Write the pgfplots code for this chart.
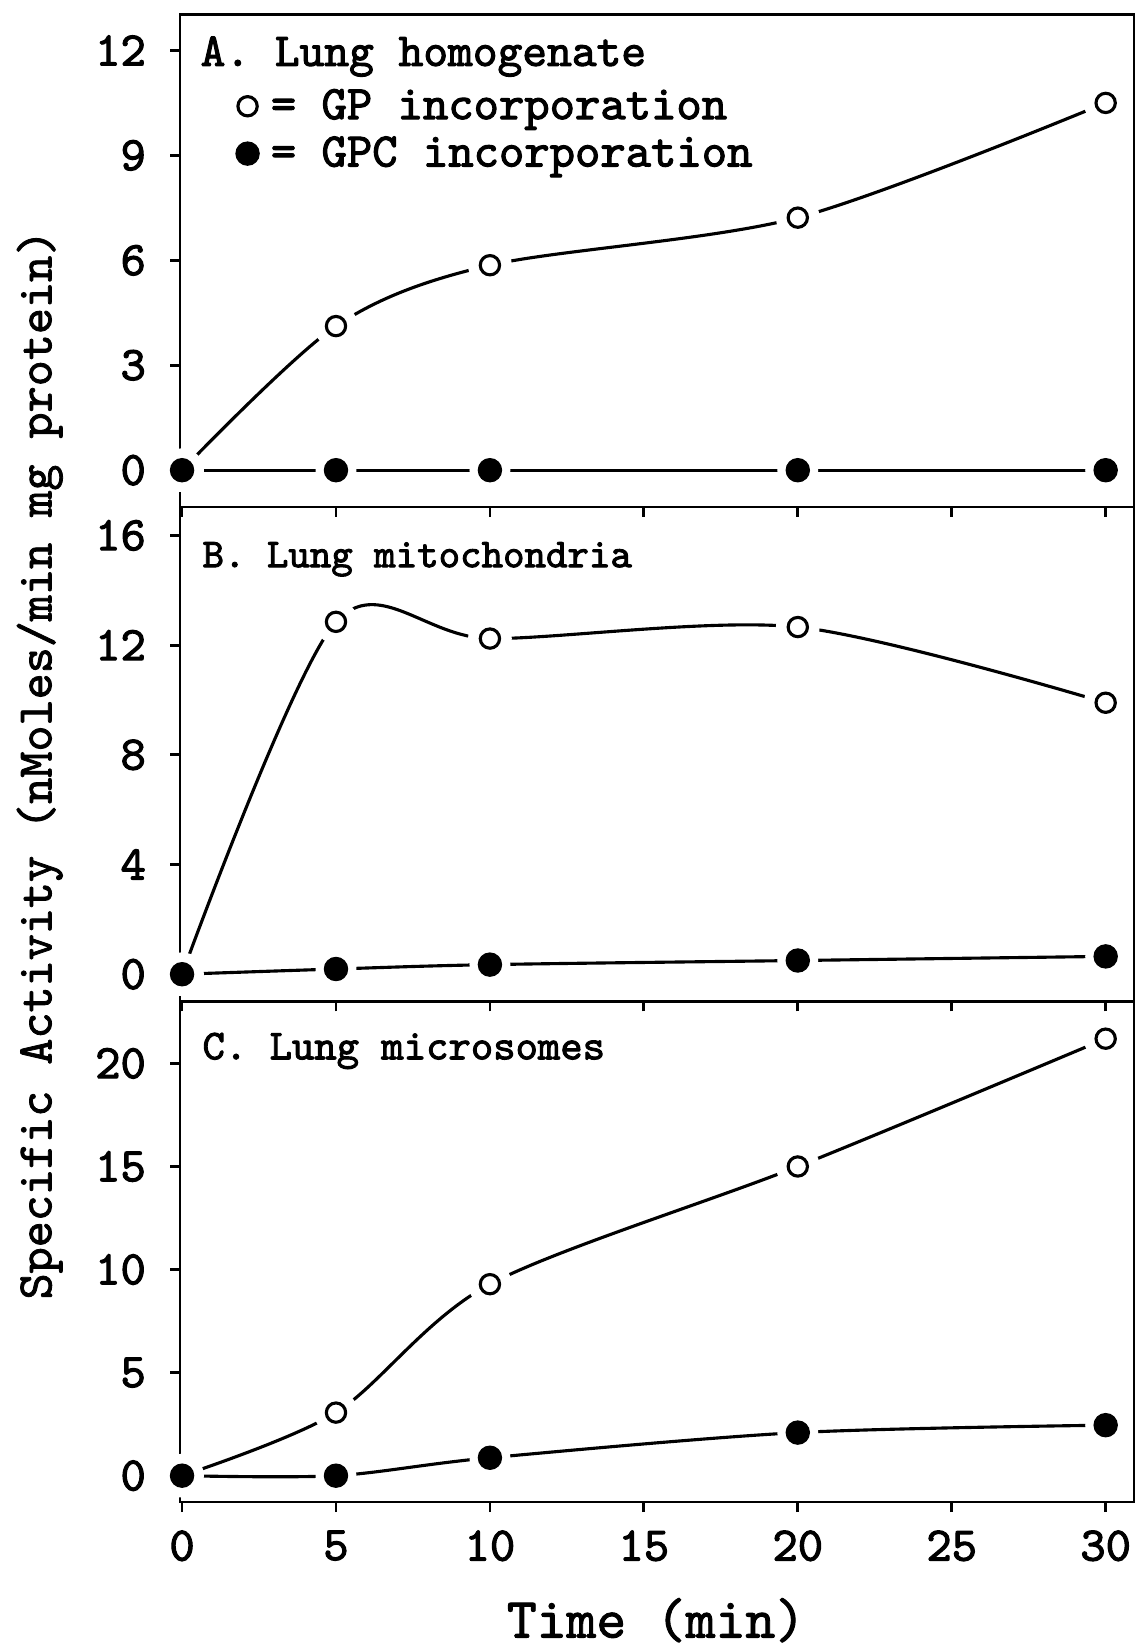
\documentclass[border=0pt]{standalone}
\usepackage{fontspec}
\newfontfamily\twb{lmmono10-regular.otf}[FakeBold=2.2]
\newfontfamily\tw{lmmono10-regular.otf}[FakeBold=1.6]
\usepackage{pgfplots}
\usepackage{pgfplotstable}
\pgfplotsset{compat=1.18}

\newcommand{\fs}[1]{\fontsize{#1}{#1}\selectfont}

\pgfplotstableread{
t   gp     gpc
0   0      0
5   4.12   0
10  5.86   0
20  7.22   0
30  10.5   0
}\tabA
\pgfplotstableread{
t   gp     gpc
0   0      0
5   12.85  0.19
10  12.24  0.35
20  12.66  0.50
30  9.9    0.65
}\tabB
\pgfplotstableread{
t   gp     gpc
0   0      0
5   3.06   0
10  9.29   0.87
20  15.0   2.09
30  21.2   2.45
}\tabC

\pgfplotsset{
 base/.style={
   width=335.9pt, scale only axis,
   xmin=-0.065, xmax=30.92,
   clip=false,
 },
 linesaxis/.style={base, hide axis},
 panel/.style={
   base,
   axis on top,
   tick align=outside, xtick pos=bottom, ytick pos=left,
   xtick={0,5,...,30},
   major tick length=3.5pt,
   axis line style={line width=1pt},
   tick style={line width=1pt, black},
   tick label style={font=\twb\fs{17}},
   yticklabel style={xshift=-5pt},
   xticklabel style={yshift=-3pt},
   /pgf/number format/assume math mode=true,
 },
 cline/.style={black, line width=1.1pt, smooth, no marks, forget plot},
 halo/.style={only marks, mark=*, mark size=#1, draw=white, fill=white, mark options={draw=white, fill=white}, forget plot},
 gp/.style={only marks, mark=o, mark size=3.4pt, mark options={line width=1.1pt, fill=white, draw=black}},
 gpc/.style={only marks, mark=*, mark size=4.1pt, mark options={fill=black, draw=black}},
}

\newcommand{\panellines}[1]{%
  \addplot[cline] table[x=t,y=gp] {#1};
  \addplot[cline] table[x=t,y=gpc] {#1};
}
\newcommand{\panelmarks}[1]{%
  \addplot[halo=7.5pt] table[x=t,y=gp] {#1};
  \addplot[halo=7pt] table[x=t,y=gpc] {#1};
  \addplot[gp] table[x=t,y=gp] {#1};
  \addplot[gpc] table[x=t,y=gpc] {#1};
}

\begin{document}
\begin{tikzpicture}
% ---------------- Panel A
\begin{axis}[linesaxis, at={(0pt,0pt)}, anchor=north west,
  height=173.3pt, ymin=-1.05, ymax=13.02]
\panellines{\tabA}
\end{axis}
\begin{axis}[panel, name=A, at={(0pt,0pt)}, anchor=north west,
  height=173.3pt, ymin=-1.05, ymax=13.02, ytick={0,3,6,9,12},
  xticklabels={},
  legend style={draw=none, fill=none, at={(rel axis cs:0.058,0.853)}, anchor=north west,
    font=\twb\fs{17}, inner sep=0pt, row sep=3.6pt,
    nodes={inner sep=0.5pt}},
  legend cell align=left,
  legend image code/.code={\draw[#1] plot coordinates {(0pt,0pt)}; \path (7.5pt,0pt);},
]
\panelmarks{\tabA}
\addlegendentry{= GP incorporation}
\addlegendentry{= GPC incorporation}
\node[anchor=west, inner sep=0pt, font=\twb\fs{16.6}] at (rel axis cs:0.021,0.915) {A. Lung homogenate};
\end{axis}
% ---------------- Panel B
\begin{axis}[linesaxis, at={(0pt,-173.3pt)}, anchor=north west,
  height=174.1pt, ymin=-0.99, ymax=17.04]
\panellines{\tabB}
\end{axis}
\begin{axis}[panel, name=B, at={(0pt,-173.3pt)}, anchor=north west,
  height=174.1pt, ymin=-0.99, ymax=17.04, ytick={0,4,8,12,16},
  xticklabels={},
  ylabel={Specific Activity (nMoles/min mg protein)},
  y label style={at={(axis description cs:-0.147,0.479)}, anchor=center, font=\tw\fs{17.5}},
]
\panelmarks{\tabB}
\node[anchor=west, inner sep=0pt, font=\twb\fs{14.4}] at (rel axis cs:0.023,0.894) {B. Lung mitochondria};
\end{axis}
% ---------------- Panel C
\begin{axis}[linesaxis, at={(0pt,-347.4pt)}, anchor=north west,
  height=176.3pt, ymin=-1.28, ymax=23.01]
\panellines{\tabC}
\end{axis}
\begin{axis}[panel, name=C, at={(0pt,-347.4pt)}, anchor=north west,
  height=176.3pt, ymin=-1.28, ymax=23.01, ytick={0,5,10,15,20},
  xlabel={Time (min)},
  x label style={at={(axis description cs:0.499,-0.236)}, anchor=center, font=\tw\fs{20}},
]
\panelmarks{\tabC}
\node[anchor=west, inner sep=0pt, font=\twb\fs{15}] at (rel axis cs:0.023,0.901) {C. Lung microsomes};
\end{axis}
\pgfresetboundingbox
\path[use as bounding box] (-63.4pt,5.2pt) rectangle (336.6pt,-575.8pt);
\end{tikzpicture}
\end{document}
